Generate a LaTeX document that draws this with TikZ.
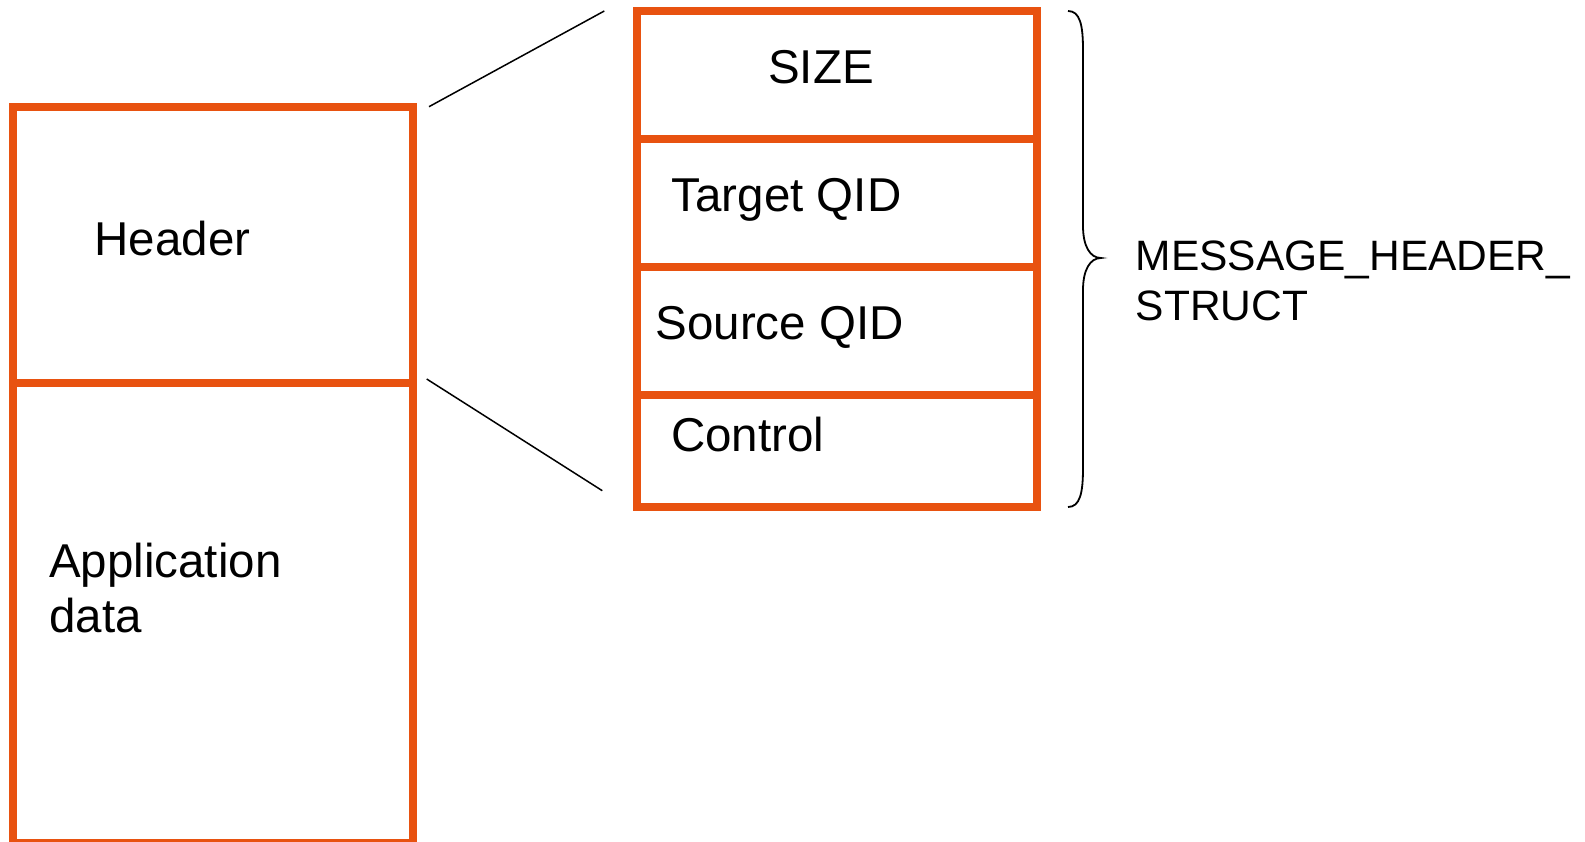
\documentclass[tikz,border=0pt]{standalone}
\usepackage{fontspec}
\setmainfont{Liberation Sans}
\definecolor{boxorange}{RGB}{232,82,16}
\begin{document}
\begin{tikzpicture}[x=1pt,y=-1pt,
  cell/.style={draw=boxorange,line width=8pt,rectangle,inner sep=0pt,outer sep=0pt,anchor=north west},
  lbl/.style={anchor=base west,inner sep=0pt,font=\fontsize{47.5}{55}\selectfont,align=left},
  link/.style={draw=black,line width=1.5pt},
  brace/.style={draw=black,line width=1.8pt}]
\useasboundingbox (0,0) rectangle (1585,842);

% message: header and application data
\node[cell,minimum width=400pt,minimum height=276pt] (hdrcell) at (13,107) {};
\node[cell,minimum width=400pt,minimum height=460pt] (appcell) at (13,383) {};

% expanded header structure
\node[cell,minimum width=400pt,minimum height=128pt] (sizecell) at (636.7,11.3) {};
\node[cell,minimum width=400pt,minimum height=128pt] (tgtcell) at (636.7,139.3) {};
\node[cell,minimum width=400pt,minimum height=128pt] (srccell) at (636.7,267.3) {};
\node[cell,minimum width=400pt,minimum height=111.4pt] (ctlcell) at (636.7,395.3) {};

% labels (base anchor of a two-line label is its last line)
\node[lbl] (hdr) at (94.5,255.7) {Header};
\node[lbl] (app) at (49,632.7) {Application\\data};
\node[lbl] (size) at (768,84) {SIZE};
\node[lbl] (tgt) at (671.5,211.7) {Target QID};
\node[lbl] (src) at (655.3,340) {Source QID};
\node[lbl] (ctl) at (671,451.7) {Control};
\node[anchor=base west,inner sep=0pt,font=\fontsize{42.5}{50.3}\selectfont,align=left]
  (mhs) at (1135.5,321) {MESSAGE\_HEADER\_\\STRUCT};

% zoom lines from the header to its structure
\coordinate (za) at (429,106.7);
\coordinate (zb) at (604.3,11);
\coordinate (zc) at (426.7,379);
\coordinate (zd) at (602.3,490.7);
\draw[link] (za) -- (zb);
\draw[link] (zc) -- (zd);

% curly brace
\coordinate (btop) at (1068,11);
\coordinate (bmid) at (1101,258);
\coordinate (bbot) at (1068,507);
\draw[brace] (btop) .. controls (1080,11) and (1083,25) .. (1083,50)
  -- (1083,226) .. controls (1083,246) and (1090,258) .. (bmid)
  .. controls (1090,258) and (1083,270) .. (1083,290)
  -- (1083,468) .. controls (1083,493) and (1080,507) .. (bbot);
\end{tikzpicture}
\end{document}
